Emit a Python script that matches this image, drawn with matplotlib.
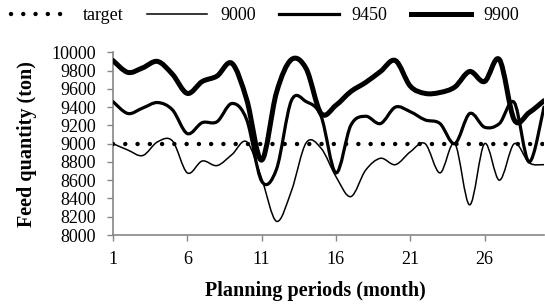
import numpy as np
import matplotlib
matplotlib.use("Agg")
import matplotlib.pyplot as plt
from matplotlib.path import Path
from matplotlib.patches import PathPatch

periods = list(range(1, 31))
target = [9000] * 30
s9000 = [9000, 8930, 8870, 9020, 9030, 8680, 8810, 8760, 8880, 9020,
         8620, 8150, 8480, 9010, 8950, 8640, 8420, 8710, 8840, 8770,
         8910, 9000, 8680, 9000, 8330, 9000, 8600, 9000, 8790, 8770]
s9450 = [9460, 9330, 9390, 9450, 9370, 9110, 9230, 9240, 9440, 9260,
         8590, 8720, 9470, 9460, 9300, 8680, 9200, 9300, 9220, 9400,
         9350, 9260, 9220, 9000, 9330, 9180, 9220, 9450, 8800, 9400]
s9900 = [9910, 9780, 9830, 9900, 9760, 9550, 9680, 9740, 9880, 9480,
         8820, 9560, 9920, 9820, 9330, 9420, 9570, 9670, 9790, 9910,
         9630, 9550, 9560, 9620, 9790, 9680, 9920, 9260, 9340, 9470]
xticks = [1, 6, 11, 16, 21, 26]
yticks = list(range(8000, 10001, 200))

plt.rcParams['font.family'] = ['Liberation Serif', 'DejaVu Serif']

fig = plt.figure(figsize=(5.45, 3.04), dpi=100)
ax = fig.add_axes([113 / 545, 69 / 304, 431 / 545, 182.7 / 304])


def smooth_path(x, y):
    x = np.asarray(x, float)
    y = np.asarray(y, float)
    n = len(x)
    verts = [(x[0], y[0])]
    codes = [Path.MOVETO]
    for i in range(n - 1):
        i0 = max(i - 1, 0)
        i3 = min(i + 2, n - 1)
        c1 = (x[i] + (x[i + 1] - x[i0]) / 6, y[i] + (y[i + 1] - y[i0]) / 6)
        c2 = (x[i + 1] - (x[i3] - x[i]) / 6, y[i + 1] - (y[i3] - y[i]) / 6)
        verts += [c1, c2, (x[i + 1], y[i + 1])]
        codes += [Path.CURVE4] * 3
    return Path(verts, codes)


ax.plot(periods, target, color='black', lw=3.2,
        linestyle=(0, (0.01, 2.75)), dash_capstyle='round', label='target',
        zorder=3)

styles = [(s9000, 1.1, '9000'), (s9450, 2.3, '9450'), (s9900, 3.6, '9900')]
for data, lw, lab in styles:
    patch = PathPatch(smooth_path(periods, data), facecolor='none',
                      edgecolor='black', lw=lw, capstyle='round',
                      joinstyle='round', zorder=4)
    ax.add_patch(patch)
    ax.plot([], [], color='black', lw=lw, label=lab)

ax.set_xlim(1, 30)
ax.set_ylim(8000, 10000)
ax.set_xticks(xticks)
ax.set_yticks(yticks)
ax.tick_params(axis='both', labelsize=13, colors='#868686',
               labelcolor='black', length=4.5, width=1, direction='out')
ax.tick_params(axis='x', pad=7)
ax.tick_params(axis='y', pad=8)
for side in ['top', 'right']:
    ax.spines[side].set_visible(False)
for side in ['left', 'bottom']:
    ax.spines[side].set_color('#868686')
    ax.spines[side].set_linewidth(1.2)

ax.set_xlabel('Planning periods (month)', fontsize=14.5, fontweight='bold')
ax.set_ylabel('Feed quantity (ton)', fontsize=14.5, fontweight='bold')
ax.xaxis.set_label_coords((315 - 113) / 431, -(291 - 235) / 182.7)
ax.xaxis.label.set_va('center')
ax.yaxis.set_label_coords((27 - 113) / 431, 0.5)
ax.yaxis.label.set_va('center')

fig.legend(loc='center', bbox_to_anchor=(265 / 545, 1 - 16 / 304),
           ncol=4, frameon=False, fontsize=13, handlelength=3.3,
           handletextpad=0.72, columnspacing=1.3, borderpad=0,
           borderaxespad=0)

fig.savefig('out.png', dpi=100)
